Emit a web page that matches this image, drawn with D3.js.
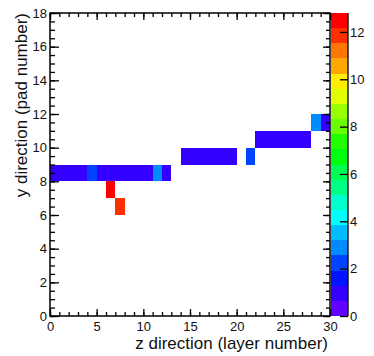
<!DOCTYPE html>
<html>
<head>
<meta charset="utf-8">
<script src="https://cdn.jsdelivr.net/npm/d3@7"></script>
<style>
  body { margin: 0; background: #fff; }
  text { font-family: "Liberation Sans", Arial, Helvetica, sans-serif; fill: #111; }
</style>
</head>
<body>
<script>
// hit cells: layer (x), pad (y), charge (z)
var cellLayer  = [0, 1, 2, 3, 4, 5, 6, 7, 8, 9, 10, 11, 12, 14, 15, 16, 17, 18, 19, 21, 22, 23, 24, 25, 26, 27, 28, 29, 6, 7];
var cellPad    = [8, 8, 8, 8, 8, 8, 8, 8, 8, 8, 8, 8, 8, 9, 9, 9, 9, 9, 9, 9, 10, 10, 10, 10, 10, 10, 11, 11, 7, 6];
var cellCharge = [1, 1, 1, 1, 2, 1, 1, 1, 1, 1, 1, 3, 1, 1, 1, 1, 1, 1, 1, 2, 1, 1, 1, 1, 1, 1, 3, 1, 12.8, 12];

var xMajor = [0, 5, 10, 15, 20, 25, 30];
var yMajor = [0, 2, 4, 6, 8, 10, 12, 14, 16, 18];
var zMajor = [0, 2, 4, 6, 8, 10, 12];

var zMax = 12.8;
var nContours = 20;
var nColors = 50;

var width = 374, height = 356;
var frame = {left: 50, right: 330, top: 13, bottom: 316};

var xScale = d3.scaleLinear().domain([0, 30]).range([frame.left, frame.right]);
var yScale = d3.scaleLinear().domain([0, 18]).range([frame.bottom, frame.top]);
var zScale = d3.scaleLinear().domain([0, zMax]).range([frame.bottom, frame.top]);

var svg = d3.select("body").append("svg")
    .attr("width", width)
    .attr("height", height);

// ROOT "pretty" palette: 50 hues from violet to red, picked per contour level
function levelColor(level) {
    var idx = Math.floor((level + 0.99) * nColors / nContours);
    var hue = 280 - (idx + 1) * (280 / nColors);
    return d3.hsl(hue, 1, 0.5).toString();
}

function chargeColor(z) {
    var level = Math.floor(0.01 + z * nContours / zMax);
    level = Math.max(0, Math.min(nContours - 1, level));
    return levelColor(level);
}

// cells
svg.append("g").selectAll("rect")
    .data(d3.range(cellLayer.length))
    .enter()
    .append("rect")
    .attr("x", function (i) { return xScale(cellLayer[i]); })
    .attr("y", function (i) { return yScale(cellPad[i] + 1); })
    .attr("width", function (i) { return xScale(cellLayer[i] + 1) - xScale(cellLayer[i]); })
    .attr("height", function (i) { return yScale(cellPad[i]) - yScale(cellPad[i] + 1); })
    .attr("fill", function (i) { return chargeColor(cellCharge[i]); })
    .attr("shape-rendering", "crispEdges");

// colour bar
var barLeft = 331, barRight = 348;
svg.append("g").selectAll("rect")
    .data(d3.range(nContours))
    .enter()
    .append("rect")
    .attr("x", barLeft)
    .attr("width", barRight - barLeft)
    .attr("y", function (k) { return zScale((k + 1) * zMax / nContours); })
    .attr("height", function (k) { return zScale(k * zMax / nContours) - zScale((k + 1) * zMax / nContours); })
    .attr("fill", function (k) { return levelColor(k); })
    .attr("shape-rendering", "crispEdges");

function styleAxis(g) {
    g.select(".domain").remove();
    g.selectAll("line").attr("stroke", "#000").attr("stroke-width", 1.3);
    g.selectAll("text").attr("font-size", 13).attr("fill", "#111");
}

// x axes (bottom with labels, top ticks only)
svg.append("g").attr("transform", "translate(0," + frame.bottom + ")")
    .call(d3.axisBottom(xScale).tickValues(xMajor).tickSize(-7).tickPadding(6).tickFormat(d3.format("d")))
    .call(styleAxis);
svg.append("g").attr("transform", "translate(0," + frame.bottom + ")")
    .call(d3.axisBottom(xScale).tickValues(d3.range(0, 31, 1)).tickSize(-4).tickFormat(""))
    .call(styleAxis);
svg.append("g").attr("transform", "translate(0," + frame.top + ")")
    .call(d3.axisTop(xScale).tickValues(xMajor).tickSize(-7).tickFormat(""))
    .call(styleAxis);
svg.append("g").attr("transform", "translate(0," + frame.top + ")")
    .call(d3.axisTop(xScale).tickValues(d3.range(0, 31, 1)).tickSize(-4).tickFormat(""))
    .call(styleAxis);

// y axes (left with labels, right ticks only)
svg.append("g").attr("transform", "translate(" + frame.left + ",0)")
    .call(d3.axisLeft(yScale).tickValues(yMajor).tickSize(-9).tickPadding(3).tickFormat(d3.format("d")))
    .call(styleAxis);
svg.append("g").attr("transform", "translate(" + frame.left + ",0)")
    .call(d3.axisLeft(yScale).tickValues(d3.range(0, 18.01, 0.5)).tickSize(-5).tickFormat(""))
    .call(styleAxis);
svg.append("g").attr("transform", "translate(" + frame.right + ",0)")
    .call(d3.axisRight(yScale).tickValues(yMajor).tickSize(-7).tickFormat(""))
    .call(styleAxis);
svg.append("g").attr("transform", "translate(" + frame.right + ",0)")
    .call(d3.axisRight(yScale).tickValues(d3.range(0, 18.01, 0.5)).tickSize(-4).tickFormat(""))
    .call(styleAxis);

// colour bar axis
svg.append("g").attr("transform", "translate(" + barRight + ",0)")
    .call(d3.axisRight(zScale).tickValues(zMajor).tickSize(-8).tickPadding(2).tickFormat(d3.format("d")))
    .call(styleAxis);
svg.append("line")
    .attr("x1", barRight).attr("x2", barRight)
    .attr("y1", frame.top).attr("y2", frame.bottom)
    .attr("stroke", "#000").attr("stroke-width", 1.3);

// frame
svg.append("rect")
    .attr("x", frame.left).attr("y", frame.top)
    .attr("width", frame.right - frame.left)
    .attr("height", frame.bottom - frame.top)
    .attr("fill", "none")
    .attr("stroke", "#000")
    .attr("stroke-width", 1.5);

// titles
svg.append("text")
    .attr("x", 328).attr("y", 349)
    .attr("text-anchor", "end")
    .attr("font-size", 17)
    .text("z direction (layer number)");

svg.append("text")
    .attr("transform", "translate(27," + frame.top + ") rotate(-90)")
    .attr("text-anchor", "end")
    .attr("font-size", 17)
    .text("y direction (pad number)");
</script>
</body>
</html>
